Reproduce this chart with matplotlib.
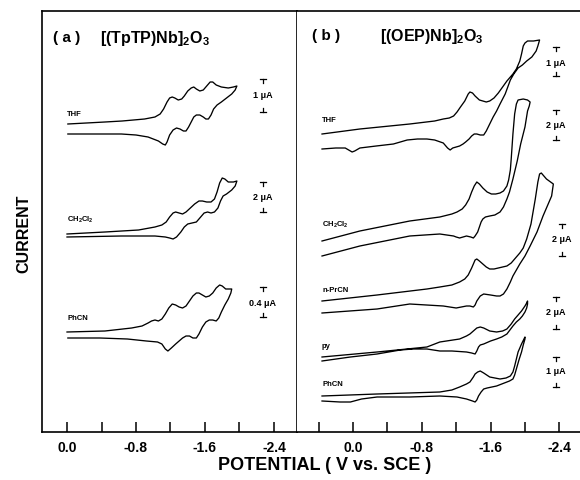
import matplotlib
matplotlib.use('Agg')
import matplotlib.pyplot as plt

plt.rcParams['font.family'] = ['Liberation Sans', 'DejaVu Sans']
plt.rcParams['font.weight'] = 'bold'
plt.rcParams['mathtext.fontset'] = 'custom'
plt.rcParams['mathtext.rm'] = 'Liberation Sans:bold'
plt.rcParams['mathtext.bf'] = 'Liberation Sans:bold'
plt.rcParams['mathtext.it'] = 'Liberation Sans:bold'

# ---------------- data (potential in V vs SCE, current in offset arbitrary units) -------------
# panel (a) [(TpTP)Nb]2O3 -- forward scan then return scan
a_thf_E = [-0.01, -0.44, -0.64, -0.90, -1.02, -1.08, -1.12, -1.16, -1.19, -1.22, -1.25, -1.29, -1.33,
           -1.36, -1.40, -1.44, -1.47, -1.50, -1.54, -1.58, -1.62, -1.66, -1.69, -1.73, -1.79, -1.87,
           -1.93, -1.97,
           -1.95, -1.91, -1.85, -1.79, -1.74, -1.70, -1.67, -1.64, -1.61, -1.58, -1.54, -1.50, -1.47,
           -1.44, -1.41, -1.38, -1.35, -1.31, -1.27, -1.23, -1.19, -1.16, -1.14, -1.11, -1.06, -0.94,
           -0.80, -0.63, -0.01]
a_thf_I = [308, 310, 311, 313, 315, 318, 323, 330, 334, 335, 334, 332, 333,
           336, 341, 344, 345, 343, 341, 342, 346, 350, 350, 347, 345, 344,
           345, 346,
           342, 338, 334, 330, 327, 323, 317, 313, 313, 315, 317, 317, 315,
           310, 305, 301, 301, 303, 304, 302, 297, 290, 287, 288, 291, 295,
           297, 298, 298]

a_dcm_E = [0.00, -0.44, -0.83, -1.02, -1.10, -1.15, -1.19, -1.23, -1.26, -1.30, -1.34, -1.38, -1.43,
           -1.48, -1.53, -1.57, -1.62, -1.67, -1.71, -1.74, -1.77, -1.80, -1.83, -1.87, -1.93, -1.97,
           -1.95, -1.91, -1.85, -1.81, -1.78, -1.75, -1.71, -1.67, -1.63, -1.59, -1.55, -1.50, -1.45,
           -1.40, -1.36, -1.32, -1.27, -1.23, -1.19, -1.14, -1.02, -0.63, 0.00]
a_dcm_I = [198, 200, 202, 205, 207, 210, 215, 219, 220, 219, 218, 220, 224,
           228, 231, 231, 230, 230, 233, 240, 249, 254, 253, 250, 250, 251,
           246, 242, 238, 236, 231, 224, 220, 219, 220, 219, 215, 210, 209,
           208, 205, 200, 195, 193, 194, 195, 196, 196, 195]

a_phcn_E = [0.00, -0.44, -0.75, -0.87, -0.94, -0.98, -1.02, -1.06, -1.10, -1.14, -1.18, -1.22, -1.26,
            -1.30, -1.34, -1.38, -1.42, -1.46, -1.50, -1.53, -1.57, -1.61, -1.65, -1.69, -1.73, -1.77,
            -1.80, -1.84, -1.91,
            -1.90, -1.87, -1.83, -1.79, -1.76, -1.73, -1.69, -1.65, -1.61, -1.57, -1.53, -1.50, -1.46,
            -1.42, -1.38, -1.34, -1.30, -1.26, -1.21, -1.17, -1.14, -1.10, -1.05, -0.92, -0.70, -0.38,
            -0.01]
a_phcn_I = [100, 101, 104, 106, 109, 111, 112, 111, 113, 118, 124, 128, 127,
            125, 124, 126, 131, 136, 139, 139, 137, 135, 136, 139, 144, 147,
            146, 143, 143,
            139, 133, 127, 120, 114, 111, 112, 112, 110, 105, 98, 94, 94,
            96, 96, 94, 91, 88, 84, 81, 83, 88, 90, 91, 93, 94,
            94]

# panel (b) [(OEP)Nb]2O3
b_thf_E = [0.36, -0.08, -0.66, -0.95, -1.05, -1.12, -1.17, -1.21, -1.25, -1.30, -1.34, -1.36, -1.39,
           -1.42, -1.47, -1.51, -1.55, -1.59, -1.64, -1.69, -1.74, -1.79, -1.83, -1.86, -1.90, -1.94,
           -1.96, -1.98, -2.00, -2.03, -2.10, -2.17,
           -2.15, -2.13, -2.08, -2.02, -1.97, -1.92, -1.87, -1.83, -1.80, -1.77, -1.71, -1.67, -1.63,
           -1.59, -1.55, -1.52, -1.48, -1.44, -1.41, -1.38, -1.35, -1.31, -1.28, -1.24, -1.20, -1.16,
           -1.13, -1.10, -1.05, -0.95, -0.86, -0.75, -0.63, -0.47, -0.27, -0.08, -0.02, 0.01, 0.05,
           0.09, 0.20, 0.36]
b_thf_I = [298, 303, 308, 311, 313, 314, 316, 320, 325, 331, 338, 340, 339,
           336, 332, 331, 330, 331, 334, 339, 345, 351, 355, 358, 363, 371,
           378, 386, 389, 391, 391, 392,
           386, 381, 375, 371, 367, 364, 358, 352, 345, 338, 328, 321, 315,
           308, 301, 297, 297, 298, 298, 296, 293, 290, 288, 286, 285, 284,
           282, 284, 289, 292, 293, 293, 292, 288, 286, 284, 281, 280, 282,
           284, 284, 283]

b_dcm_E = [0.36, -0.08, -0.66, -1.01, -1.15, -1.21, -1.27, -1.31, -1.35, -1.38, -1.41, -1.44, -1.47,
           -1.51, -1.56, -1.61, -1.66, -1.71, -1.75, -1.79, -1.81, -1.83, -1.84, -1.86, -1.88, -1.90,
           -1.92, -1.98, -2.03, -2.06,
           -2.05, -2.03, -2.00, -1.95, -1.91, -1.86, -1.82, -1.79, -1.75, -1.71, -1.65, -1.59, -1.54,
           -1.51, -1.49, -1.47, -1.45, -1.42, -1.40, -1.37, -1.32, -1.28, -1.24, -1.20, -1.17, -1.01,
           -0.66, -0.08, 0.36]
b_dcm_I = [191, 201, 211, 215, 218, 220, 223, 227, 233, 240, 246, 250, 248,
           244, 240, 238, 238, 239, 241, 246, 252, 262, 273, 298, 318, 328,
           332, 333, 332, 330,
           326, 321, 305, 288, 271, 253, 240, 233, 225, 220, 217, 216, 215,
           213, 210, 205, 200, 196, 194, 195, 196, 195, 194, 195, 196, 198,
           196, 186, 176]

b_prcn_E = [0.36, -0.28, -0.86, -1.01, -1.15, -1.24, -1.30, -1.34, -1.38, -1.40, -1.42, -1.44, -1.47,
            -1.51, -1.55, -1.59, -1.64, -1.69, -1.79, -1.84, -1.88, -1.94, -1.98, -2.02, -2.07, -2.12,
            -2.15, -2.17, -2.19, -2.25, -2.33,
            -2.32, -2.31, -2.26, -2.21, -2.14, -2.06, -2.00, -1.94, -1.90, -1.86, -1.83, -1.79, -1.75,
            -1.71, -1.67, -1.60, -1.52, -1.48, -1.44, -1.42, -1.40, -1.36, -1.32, -1.26, -1.20, -1.05,
            -0.66, -0.28, 0.36]
b_prcn_I = [131, 137, 143, 145, 147, 150, 153, 157, 164, 168, 172, 173, 171,
            168, 165, 163, 163, 164, 166, 169, 173, 179, 184, 193, 208, 233,
            250, 258, 259, 253, 248,
            242, 236, 226, 216, 200, 186, 176, 168, 162, 156, 150, 143, 138,
            136, 136, 137, 138, 136, 131, 127, 125, 126, 126, 125, 124, 126,
            128, 123, 119]

b_py_E = [0.36, -0.28, -0.86, -1.01, -1.24, -1.32, -1.36, -1.40, -1.44, -1.48, -1.52, -1.59, -1.67,
          -1.74, -1.79, -1.84, -1.88, -1.92, -1.96, -2.00, -2.02, -2.03,
          -2.03, -2.02, -2.00, -1.97, -1.94, -1.90, -1.86, -1.79, -1.73, -1.67, -1.60, -1.52, -1.48,
          -1.46, -1.44, -1.42, -1.38, -1.32, -1.15, -1.01, -0.86, -0.70, -0.55, -0.28, 0.03, 0.36]
b_py_I = [75, 80, 85, 90, 93, 96, 98, 101, 104, 105, 104, 101, 100,
          101, 103, 108, 113, 117, 121, 126, 129, 131,
          128, 124, 120, 116, 113, 110, 106, 98, 95, 93, 91, 88, 87,
          85, 81, 78, 79, 80, 81, 81, 83, 83, 82, 78, 75, 71]

b_phcn_E = [0.36, -0.28, -1.01, -1.15, -1.24, -1.32, -1.36, -1.40, -1.42, -1.45, -1.48, -1.52, -1.59,
            -1.65, -1.71, -1.78, -1.83, -1.86, -1.88, -1.90, -1.92, -1.96, -2.00,
            -2.00, -1.98, -1.96, -1.93, -1.90, -1.88, -1.86, -1.82, -1.79, -1.67, -1.56, -1.52, -1.49,
            -1.46, -1.44, -1.42, -1.39, -1.32, -1.21, -1.01, -0.66, -0.28, -0.10, 0.03, 0.15, 0.36]
b_phcn_I = [36, 38, 40, 42, 45, 48, 50, 55, 58, 60, 61, 59, 55,
            54, 53, 54, 56, 60, 66, 73, 80, 88, 95,
            93, 87, 80, 72, 63, 57, 53, 51, 50, 46, 44, 43, 40,
            36, 32, 30, 31, 33, 35, 36, 35, 35, 33, 30, 30, 31]

a_labels = ['THF', r'CH$_2$Cl$_2$', 'PhCN']
b_labels = ['THF', r'CH$_2$Cl$_2$', 'n-PrCN', 'py', 'PhCN']
a_scale_text = ['1 μA', '2 μA', '0.4 μA']
b_scale_text = ['1 μA', '2 μA', '2 μA', '2 μA', '1 μA']

tick_vals_a = [0.0, -0.4, -0.8, -1.2, -1.6, -2.0, -2.4]
tick_text_a = ['0.0', '', '-0.8', '', '-1.6', '', '-2.4']
tick_vals_b = [0.4, 0.0, -0.4, -0.8, -1.2, -1.6, -2.0, -2.4]
tick_text_b = ['', '0.0', '', '-0.8', '', '-1.6', '', '-2.4']

# ---------------- figure -------------
W, H = 580, 481
fig = plt.figure(figsize=(W / 100, H / 100), dpi=100)
axL = fig.add_axes([42 / W, 48 / H, 255 / W, 421 / H])
axR = fig.add_axes([297 / W, 48 / H, 283 / W, 421 / H])

axL.set_xlim(0.29, -2.667)
axR.set_xlim(0.651, -2.64)
for ax in (axL, axR):
    ax.set_ylim(0, 421)
    ax.set_yticks([])
    for s in ax.spines.values():
        s.set_linewidth(1.2)
    ax.tick_params(axis='x', direction='in', length=7, width=1.1, pad=6, labelsize=10)
axR.spines['right'].set_visible(False)
axR.spines['left'].set_visible(False)

axL.set_xticks(tick_vals_a)
axL.set_xticklabels(tick_text_a, fontweight='bold')
axR.set_xticks(tick_vals_b)
axR.set_xticklabels(tick_text_b, fontweight='bold')

lw = 0.95
for E, I in [(a_thf_E, a_thf_I), (a_dcm_E, a_dcm_I), (a_phcn_E, a_phcn_I)]:
    axL.plot(E, I, color='black', lw=lw, solid_joinstyle='round')
for E, I in [(b_thf_E, b_thf_I), (b_dcm_E, b_dcm_I), (b_prcn_E, b_prcn_I),
             (b_py_E, b_py_I), (b_phcn_E, b_phcn_I)]:
    axR.plot(E, I, color='black', lw=lw, solid_joinstyle='round')

# curve labels
a_label_I = [319, 213, 114]
for lab, y in zip(a_labels, a_label_I):
    axL.text(0.0, y, lab, fontsize=5.5, fontweight='bold', ha='left', va='center')
b_label_I = [313, 208, 143, 86, 48]
for lab, y in zip(b_labels, b_label_I):
    axR.text(0.36, y, lab, fontsize=5.5, fontweight='bold', ha='left', va='center')

# scale bars
def scale_bar(ax, E, top, mid, bot, label):
    hw = 0.035
    ax.plot([E - hw, E + hw], [top, top], color='k', lw=0.9)
    ax.plot([E, E], [top, top - 4], color='k', lw=0.9)
    ax.text(E, mid, label, ha='center', va='center', fontsize=6.5, fontweight='bold')
    ax.plot([E, E], [bot, bot + 4], color='k', lw=0.9)
    ax.plot([E - hw, E + hw], [bot, bot], color='k', lw=0.9)

a_scale_pos = [(353, 337, 320), (250, 235, 220), (145, 130, 115)]
for txt, (t, m, b) in zip(a_scale_text, a_scale_pos):
    scale_bar(axL, -2.27, t, m, b, txt)
b_scale_pos = [(385, 370, 356), (322, 307, 292), (208, 193, 176), (135, 120, 103), (75, 61, 45)]
b_scale_E = [-2.36, -2.36, -2.43, -2.36, -2.36]
for txt, E, (t, m, b) in zip(b_scale_text, b_scale_E, b_scale_pos):
    scale_bar(axR, E, t, m, b, txt)

# titles
fig.text(53 / W, 1 - 38 / H, '( a )', fontsize=11, fontweight='bold', ha='left', va='center')
fig.text(100 / W, 1 - 38 / H, r'[(TpTP)Nb]$_2$O$_3$', fontsize=11.5, fontweight='bold',
         ha='left', va='center')
fig.text(312 / W, 1 - 36 / H, '( b )', fontsize=11, fontweight='bold', ha='left', va='center')
fig.text(380 / W, 1 - 36 / H, r'[(OEP)Nb]$_2$O$_3$', fontsize=11.5, fontweight='bold',
         ha='left', va='center')

# axis labels
fig.text(325 / W, 1 - 466 / H, 'POTENTIAL ( V vs. SCE )', fontsize=13, fontweight='bold',
         ha='center', va='center')
fig.text(24 / W, 1 - 234 / H, 'CURRENT', fontsize=11.5, fontweight='bold', rotation=90,
         ha='center', va='center')

fig.savefig('out.png', dpi=100, facecolor='white')
